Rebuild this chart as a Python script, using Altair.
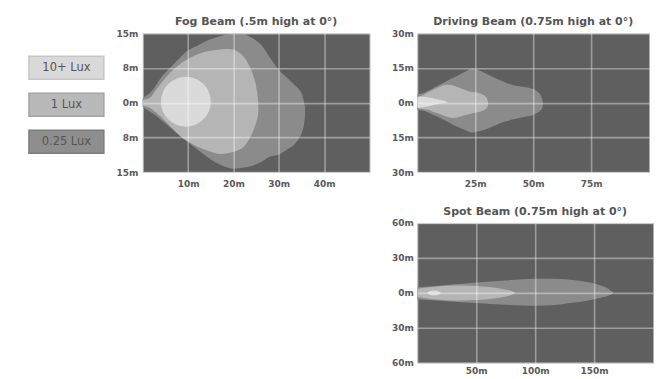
import altair as alt
import pandas as pd

# ---------------- data ----------------
legend_labels = ["10+ Lux", "1 Lux", "0.25 Lux"]

# Fog beam (x in m, lateral y in m)
fog_low_x = [0, 2, 4, 6, 8, 10, 12, 14, 16, 18, 20, 22, 24, 26, 28, 30, 32, 33.5, 34.5, 35.2, 35.6, 35.8]
fog_low_top = [1.0, 2.5, 5.4, 7.5, 9.5, 11.3, 12.3, 13.3, 14.0, 14.6, 14.9, 14.9, 14.0, 12.6, 9.8, 7.1, 5.2, 3.8, 2.8, 1.6, 0.0, -1.0]
fog_low_bot = [-1.0, -2.2, -3.7, -5.3, -7.0, -8.5, -10.1, -11.6, -12.9, -13.8, -14.3, -14.1, -13.7, -12.9, -11.7, -11.2, -10.0, -9.0, -7.6, -6.2, -4.5, -2.6]

fog_mid_x = [0, 1.5, 3, 5, 7, 9, 11, 13, 15, 17, 19, 21, 22.5, 23.5, 24.5, 25.1, 25.4, 25.5]
fog_mid_top = [0.6, 1.0, 2.9, 5.3, 7.4, 8.9, 10.0, 10.8, 11.2, 11.5, 11.6, 11.0, 9.6, 8.0, 5.5, 3.0, 0.7, -1.2]
fog_mid_bot = [-0.6, -1.1, -2.2, -4.0, -6.0, -7.8, -9.0, -9.9, -10.6, -11.1, -10.9, -10.3, -9.3, -7.8, -5.8, -4.0, -2.8, -1.5]

fog_high_x = [9.5]
fog_high_y = [0.2]

# Driving beam
drv_low_x = [0, 3, 6, 9, 12, 15, 18, 21, 23.7, 26, 29, 32, 35, 38, 41, 44, 47, 50, 52, 53.3, 54, 54.2]
drv_low_top = [3.5, 4.3, 5.8, 7.4, 8.9, 10.5, 12.0, 13.6, 14.8, 14.2, 12.9, 11.4, 10.0, 8.7, 7.6, 7.1, 6.7, 5.9, 4.6, 3.0, 1.0, -0.5]
drv_low_bot = [-3.2, -3.6, -4.9, -6.2, -7.7, -9.3, -10.8, -12.0, -13.0, -12.5, -11.7, -10.5, -9.2, -8.2, -7.3, -6.6, -6.0, -5.3, -4.3, -3.2, -2.0, -0.8]

drv_mid_x = [0, 2, 4, 7, 10, 12.5, 15, 17, 20, 23, 26, 28, 29.5, 30.3, 30.6]
drv_mid_top = [2.6, 3.0, 4.2, 5.7, 7.0, 7.7, 7.5, 6.9, 5.7, 4.7, 4.3, 3.5, 2.5, 1.0, -0.3]
drv_mid_bot = [-2.4, -2.6, -3.0, -4.0, -5.0, -6.0, -6.6, -6.4, -5.6, -4.8, -4.2, -3.5, -2.7, -1.8, -0.8]

drv_high_x = [0, 3, 6, 9, 11.5, 13.3]
drv_high_top = [2.6, 2.5, 2.0, 1.4, 0.8, 0.2]
drv_high_bot = [-2.3, -1.9, -1.3, -0.6, -0.2, 0.1]

# Spot beam
spt_low_x = [0, 25, 50, 75, 100, 115, 130, 145, 155, 162, 166]
spt_low_top = [4.8, 6.8, 8.8, 10.6, 12.0, 12.2, 11.2, 9.0, 6.5, 3.5, 0.5]
spt_low_bot = [-5.5, -7.3, -8.8, -10.3, -11.0, -10.6, -8.8, -6.6, -4.5, -2.5, -0.5]

spt_mid_x = [0, 10, 20, 30, 40, 50, 60, 70, 76, 80, 83]
spt_mid_top = [3.5, 4.8, 5.7, 6.2, 6.2, 5.8, 5.0, 3.8, 2.6, 1.5, 0.2]
spt_mid_bot = [-3.5, -5.0, -6.0, -6.5, -6.5, -6.2, -5.5, -4.3, -3.0, -1.8, -0.4]

spt_high_x = [8.5, 10, 12, 14, 16, 18, 20]
spt_high_top = [0.2, 1.3, 1.9, 2.0, 1.9, 1.3, 0.1]
spt_high_bot = [-0.2, -1.5, -2.1, -2.2, -2.1, -1.5, -0.1]

# axes
fog_xticks = [10, 20, 30, 40]
fog_xlabels = ["10m", "20m", "30m", "40m"]
fog_yticks = [15, 7.5, 0, -7.5, -15]
fog_ylabels = ["15m", "8m", "0m", "8m", "15m"]

drv_xticks = [25, 50, 75]
drv_xlabels = ["25m", "50m", "75m"]
drv_yticks = [30, 15, 0, -15, -30]
drv_ylabels = ["30m", "15m", "0m", "15m", "30m"]

spt_xticks = [50, 100, 150]
spt_xlabels = ["50m", "100m", "150m"]
spt_yticks = [60, 30, 0, -30, -60]
spt_ylabels = ["60m", "30m", "0m", "30m", "60m"]

# ---------------- styling ----------------
FONT = "DejaVu Sans"
BG = "#5f5f5f"
C_LOW = "#8b8b8b"
C_MID = "#b5b5b5"
C_HIGH = "#dadada"
LEG_FILL = ["#d9d9d9", "#b9b9b9", "#8e8e8e"]
LEG_STROKE = ["#c6c6c6", "#a4a4a4", "#7c7c7c"]
LABEL_COLOR = "#5a5a5a"


def label_expr(vals, labels):
    e = "''"
    for v, l in zip(vals, labels):
        e = f"datum.value == {v} ? '{l}' : ({e})"
    return e


def title_params(text):
    return alt.TitleParams(text=text, font=FONT, fontSize=11, color="#555555",
                           offset=2, fontWeight="bold")


def panel(title, xdom, ydom, xt, xl, yt, yl, w, h, xpad, ypad, low, mid, high, high_circle=None):
    xs = alt.Scale(domain=xdom, nice=False, zero=False)
    ys = alt.Scale(domain=ydom, nice=False, zero=False)
    common = dict(title=None, grid=True, ticks=False, domain=False, zindex=1,
                  labelFont=FONT, labelFontSize=9, labelFontWeight="bold",
                  labelColor=LABEL_COLOR, gridColor="#ffffff", gridOpacity=0.38,
                  gridWidth=1.6)
    xax = alt.Axis(values=xt, labelExpr=label_expr(xt, xl), labelPadding=xpad, **common)
    yax = alt.Axis(values=yt, labelExpr=label_expr(yt, yl), labelPadding=ypad, **common)

    def area(d, color):
        df = pd.DataFrame({"x": d[0], "top": d[1], "bot": d[2]})
        return alt.Chart(df).mark_area(color=color, interpolate="monotone", opacity=1).encode(
            x=alt.X("x:Q", scale=xs, axis=xax),
            y=alt.Y("top:Q", scale=ys, axis=yax),
            y2="bot:Q",
        )

    layers = [area(low, C_LOW), area(mid, C_MID)]
    if high is not None:
        layers.append(area(high, C_HIGH))
    if high_circle is not None:
        df = pd.DataFrame({"x": high_circle[0], "y": high_circle[1]})
        layers.append(
            alt.Chart(df).mark_circle(color=C_HIGH, opacity=1, size=2500).encode(
                x=alt.X("x:Q", scale=xs, axis=xax), y=alt.Y("y:Q", scale=ys, axis=yax)
            )
        )
    return alt.layer(*layers).properties(
        width=w, height=h, title=title_params(title),
        view=alt.ViewBackground(fill=BG, stroke="#b0b0b0", strokeWidth=1),
    )


fog = panel("Fog Beam (.5m high at 0\u00b0)", [0, 50], [-15, 15],
            fog_xticks, fog_xlabels, fog_yticks, fog_ylabels, 227, 139, 7, 5,
            (fog_low_x, fog_low_top, fog_low_bot), (fog_mid_x, fog_mid_top, fog_mid_bot),
            None, (fog_high_x, fog_high_y))

drv = panel("Driving Beam (0.75m high at 0\u00b0)", [0, 100], [-30, 30],
            drv_xticks, drv_xlabels, drv_yticks, drv_ylabels, 232, 139, 7, 4,
            (drv_low_x, drv_low_top, drv_low_bot), (drv_mid_x, drv_mid_top, drv_mid_bot),
            (drv_high_x, drv_high_top, drv_high_bot))

spt = panel("Spot Beam (0.75m high at 0\u00b0)", [0, 200], [-60, 60],
            spt_xticks, spt_xlabels, spt_yticks, spt_ylabels, 236, 140, 4, 4,
            (spt_low_x, spt_low_top, spt_low_bot), (spt_mid_x, spt_mid_top, spt_mid_bot),
            (spt_high_x, spt_high_top, spt_high_bot))

leg_df = pd.DataFrame({"label": legend_labels})
ysc = alt.Y("label:N", sort=legend_labels, axis=None,
            scale=alt.Scale(paddingInner=0.378, paddingOuter=0.567, align=0.55))
leg_rect = alt.Chart(leg_df).mark_rect(strokeWidth=1.5).encode(
    y=ysc,
    fill=alt.Fill("label:N", scale=alt.Scale(domain=legend_labels, range=LEG_FILL), legend=None),
    stroke=alt.Stroke("label:N", scale=alt.Scale(domain=legend_labels, range=LEG_STROKE), legend=None),
)
leg_text = alt.Chart(leg_df).mark_text(font=FONT, fontSize=11.5, color="#555555").encode(
    y=ysc, text="label:N"
)
legend = alt.layer(leg_rect, leg_text).properties(
    width=75, height=139, title=title_params(" "),
    view=alt.ViewBackground(fill="transparent", stroke="transparent"),
)

left = alt.hconcat(legend, fog, spacing=9)
right = alt.vconcat(drv, spt, spacing=16)
chart = alt.hconcat(left, right, spacing=20).properties(
    padding={"left": 19, "top": 7, "right": 0, "bottom": 0}
).configure(background="white")

chart.save("out.html", embed_options={"renderer": "svg", "actions": False})
